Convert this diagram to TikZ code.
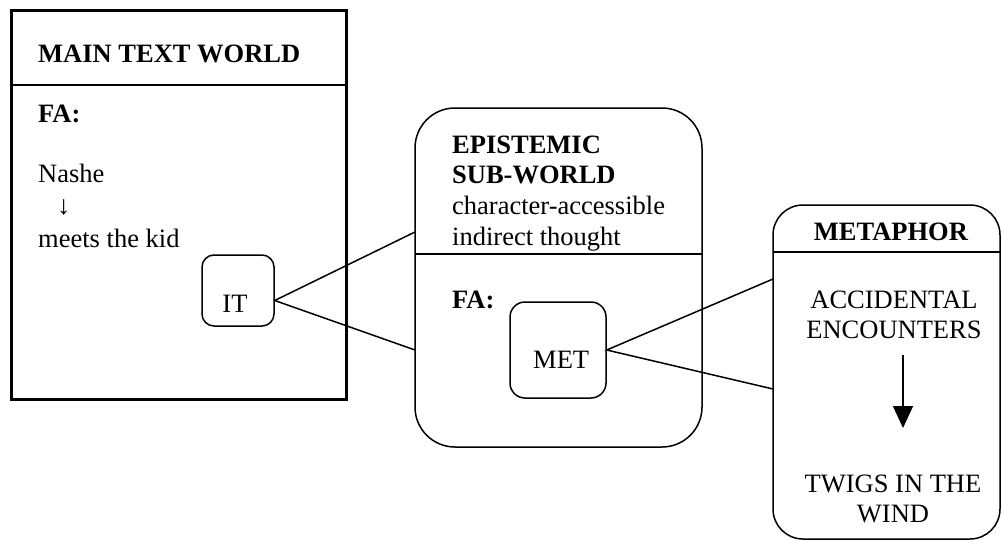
\documentclass[tikz,border=0pt]{standalone}
\usepackage{fontspec}
\setmainfont{Liberation Serif}
\usetikzlibrary{arrows.meta}
\begin{document}
\begin{tikzpicture}[x=1pt,y=-1pt,
  every node/.style={font=\fontsize{26.5pt}{30pt}\selectfont, inner sep=0pt},
  frame/.style={draw, line width=1.5pt, inner sep=0pt},
  worldbox/.style={frame, line width=3pt},
  roundbox/.style={frame, rounded corners=#1},
  txt/.style={anchor=base west},
  ctxt/.style={anchor=base},
  link/.style={line width=1.5pt}
]
\useasboundingbox[fill=white] (0,0) rectangle (1002,541);

% Main text world
\node[worldbox, minimum width=335pt, minimum height=389pt] (main) at (178.5,204.5) {};
\draw[line width=1.5pt] (11,85) -- (346,85);
\node[txt] (mtw) at (38,62) {\textbf{MAIN TEXT WORLD}};
\node[txt] (fa1) at (38,122) {\textbf{FA:}};
\node[txt] (nashe) at (38,182) {Nashe};
\node[txt] (darr) at (57,214) {↓};
\node[txt] (meets) at (38,247) {meets the kid};
\node[roundbox=12pt, minimum width=72pt, minimum height=71pt] (IT) at (238,290.5) {};
\node[ctxt] (ittxt) at (235,312) {IT};

% Epistemic sub-world
\node[roundbox=40pt, minimum width=287pt, minimum height=339pt] (epi) at (558.5,277.5) {};
\draw[line width=1.5pt] (415,254) -- (702,254);
\node[txt] (epi1) at (452,153) {\textbf{EPISTEMIC}};
\node[txt] (epi2) at (452,183) {\textbf{SUB-WORLD}};
\node[txt] (epi3) at (452,214) {character-accessible};
\node[txt] (epi4) at (452,245) {indirect thought};
\node[txt] (fa2) at (452,308) {\textbf{FA:}};
\node[roundbox=15pt, minimum width=96pt, minimum height=96pt] (MET) at (558,350) {};
\node[txt] (mettxt) at (533,368) {MET};

% Metaphor world
\node[roundbox=30pt, minimum width=227pt, minimum height=334pt] (meta) at (886.5,372) {};
\draw[line width=1.5pt] (773,252) -- (1000,252);
\node[ctxt] (metah) at (891,240) {\textbf{METAPHOR}};
\node[ctxt] (acc) at (894,308) {ACCIDENTAL};
\node[ctxt] (enc) at (894,338) {ENCOUNTERS};
\node[ctxt] (twigs) at (893,492) {TWIGS IN THE};
\node[ctxt] (wind) at (893,522) {WIND};
\coordinate (arrtop) at (903,355);
\coordinate (arrbot) at (903,428);
\draw[line width=1.5pt, -{Triangle[width=20pt,length=22pt]}] (arrtop) -- (arrbot);

% Connectors
\coordinate (itp) at ([yshift=-10pt]IT.east);
\coordinate (e1) at (415,232);
\coordinate (e2) at (415,350);
\coordinate (m1) at (773,279);
\coordinate (m2) at (773,389);
\draw[link] (e1) -- (itp) -- (e2);
\draw[link] (m1) -- (MET.east) -- (m2);
\end{tikzpicture}
\end{document}
